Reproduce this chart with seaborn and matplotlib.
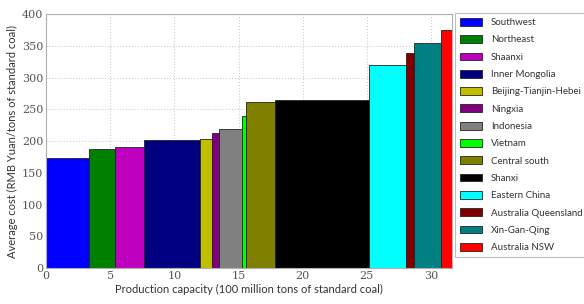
import matplotlib
matplotlib.use('Agg')
import matplotlib.pyplot as plt
import matplotlib.patches as mpatches
import seaborn as sns
import numpy as np

regions = ['Southwest', 'Northeast', 'Shaanxi', 'Inner Mongolia', 'Beijing-Tianjin-Hebei',
           'Ningxia', 'Indonesia', 'Vietnam', 'Central south', 'Shanxi', 'Eastern China',
           'Australia Queensland', 'Xin-Gan-Qing', 'Australia NSW']
capacity = [3.38, 2.0, 2.27, 4.33, 0.93, 0.53, 1.79, 0.34, 2.29, 7.27, 2.94, 0.63, 2.05, 0.89]
cost = [173, 188, 191, 202, 203, 212, 219, 240, 262, 264, 320, 338, 355, 375]
colors = ['#0000ff', '#008000', '#bf00bf', '#000080', '#bfbf00', '#800080', '#808080',
          '#00ff00', '#808000', '#000000', '#00ffff', '#800000', '#008080', '#ff0000']

sns.set_style('whitegrid', {'grid.linestyle': ':', 'grid.color': '#cccccc',
                            'axes.edgecolor': '#b0b0b0'})

fig = plt.figure(figsize=(5.84, 3.04), dpi=100)
ax = fig.add_axes([0.079, 0.118, 0.695, 0.836])

left = np.concatenate([[0], np.cumsum(capacity)[:-1]])
ax.bar(left, cost, width=capacity, align='edge', color=colors,
       edgecolor='#222222', linewidth=0.6, zorder=2)

ax.set_xlim(0, sum(capacity))
ax.set_ylim(0, 400)
ax.set_xticks([0, 5, 10, 15, 20, 25, 30])
ax.set_yticks(range(0, 401, 50))
for lab in ax.get_xticklabels() + ax.get_yticklabels():
    lab.set_family('DejaVu Serif')
    lab.set_fontsize(8)
    lab.set_color('#555555')
ax.tick_params(axis='x', pad=2, length=0)
ax.tick_params(axis='y', pad=2, length=0)
ax.set_xlabel('Production capacity (100 million tons of standard coal)',
              family='Lato', fontsize=8, color='#333333', labelpad=2)
ax.set_ylabel('Average cost (RMB Yuan/tons of standard coal)',
              family='Lato', fontsize=8, color='#333333', labelpad=3)

handles = [mpatches.Patch(facecolor=c, edgecolor='#222222', linewidth=0.6, label=r)
           for r, c in zip(regions, colors)]
leg = fig.legend(handles=handles, loc='upper left', bbox_to_anchor=(0.779, 0.957),
                 prop={'family': 'Lato', 'size': 7}, frameon=True, fancybox=False,
                 handlelength=2.3, handleheight=0.85, labelspacing=0.83,
                 borderpad=0.5, handletextpad=0.9, borderaxespad=0)
leg.get_frame().set_edgecolor('#b0b0b0')
leg.get_frame().set_linewidth(0.8)
for t in leg.get_texts():
    t.set_color('#333333')

plt.savefig('out.png', dpi=100)
